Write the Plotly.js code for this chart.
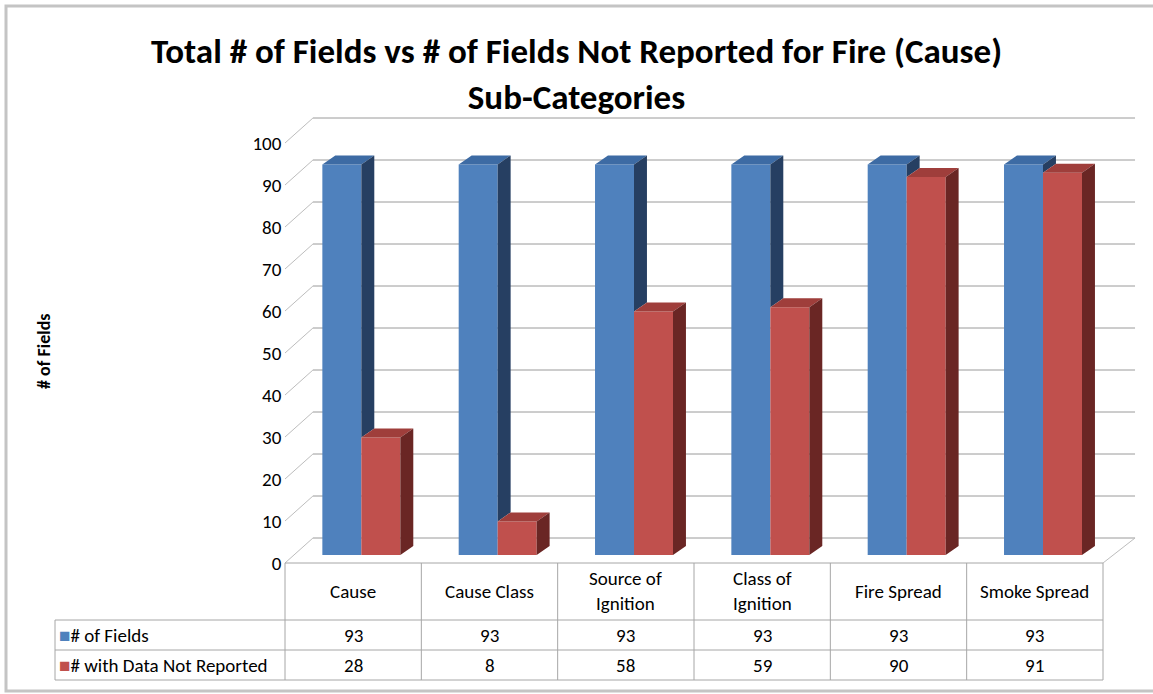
<!DOCTYPE html>
<html>
<head>
<meta charset="utf-8">
<script src="https://cdn.plot.ly/plotly-3.0.1.min.js"></script>
<style>html,body{margin:0;padding:0;background:#fff;}#chart{width:1153px;height:694px;}</style>
</head>
<body>
<div id="chart"></div>
<script>
// ---------------- data ----------------
const categories = ["Cause", "Cause Class", "Source of<br>Ignition", "Class of<br>Ignition", "Fire Spread", "Smoke Spread"];
const totalFields = [93, 93, 93, 93, 93, 93];
const notReported = [28, 8, 58, 59, 90, 91];
const seriesNames = ["# of Fields", "# with Data Not Reported"];
const yTickValues = [0, 10, 20, 30, 40, 50, 60, 70, 80, 90, 100];
const chartTitle = "Total # of Fields vs # of Fields Not Reported for Fire (Cause)<br>Sub-Categories";
const yTitle = "# of Fields";

// ---------------- styling / geometry ----------------
const FONT = "Carlito, Lato, 'Open Sans', sans-serif";
const W = 1153, H = 694;
const BAR_BASE = 1.9;      // bars stand slightly behind the floor front edge
const WALL_DX = 0.205, WALL_DY = 5.95;   // back wall offset
const DEPTH_DX = 0.095, DEPTH_DY = 2.14; // bar depth
const BAR_W = 0.286, BLUE_OFF = -0.226, RED_OFF = 0.06;
const X_BACK_RIGHT = 5.735;
const colors = {
  blueFront: "#4F81BD", blueTop: "#3D6BA4", blueSide: "#263F62",
  redFront: "#C0504D", redTop: "#9F3E3B", redSide: "#6A2624",
  grid: "#9A9A9A", table: "#A6A6A6"
};
const idx = categories.map((_, i) => i);
const py = p => 1 - p / H; // pixel row -> paper
const px = p => p / W;

function topFaces(vals, off) {
  const xs = [], ys = [];
  vals.forEach((v, i) => {
    const x0 = i + off, x1 = x0 + BAR_W, t = v + BAR_BASE;
    xs.push(x0, x1, x1 + DEPTH_DX, x0 + DEPTH_DX, x0, null);
    ys.push(t, t, t + DEPTH_DY, t + DEPTH_DY, t, null);
  });
  return {xs, ys};
}
function sideFaces(vals, off, lowerVals) {
  const xs = [], ys = [];
  vals.forEach((v, i) => {
    const x0 = i + off + BAR_W, t = v + BAR_BASE;
    const lowV = lowerVals ? lowerVals[i] : 0;
    if (lowV >= v) return;
    const b = lowV + BAR_BASE;
    xs.push(x0, x0 + DEPTH_DX, x0 + DEPTH_DX, x0, x0, null);
    ys.push(t, t + DEPTH_DY, b + DEPTH_DY, b, t, null);
  });
  return {xs, ys};
}
function poly(f, color, name) {
  return {type: "scatter", mode: "lines", x: f.xs, y: f.ys, fill: "toself",
    fillcolor: color, line: {width: 0, color: color}, hoverinfo: "skip",
    showlegend: false, name: name};
}

const blueTop = topFaces(totalFields, BLUE_OFF);
const blueSide = sideFaces(totalFields, BLUE_OFF, notReported); // visible part above red bar
const redTop = topFaces(notReported, RED_OFF);
const redSide = sideFaces(notReported, RED_OFF, null);

const traces = [
  {type: "bar", x: idx, y: totalFields, base: BAR_BASE, offset: BLUE_OFF, width: BAR_W,
   marker: {color: colors.blueFront, line: {width: 0}}, name: seriesNames[0], showlegend: false,
   customdata: totalFields, hovertemplate: "%{customdata}<extra>" + seriesNames[0] + "</extra>"},
  {type: "bar", x: idx, y: notReported, base: BAR_BASE, offset: RED_OFF, width: BAR_W,
   marker: {color: colors.redFront, line: {width: 0}}, name: seriesNames[1], showlegend: false,
   customdata: notReported, hovertemplate: "%{customdata}<extra>" + seriesNames[1] + "</extra>"},
  poly(blueTop, colors.blueTop, "blue top"),
  poly(blueSide, colors.blueSide, "blue side"),
  poly(redTop, colors.redTop, "red top"),
  poly(redSide, colors.redSide, "red side")
];

// ---------------- shapes: walls, floor, table ----------------
const shapes = [];
yTickValues.forEach(v => {
  shapes.push({type: "line", xref: "x", yref: "y", layer: "below",
    x0: -0.5 + WALL_DX, y0: v + WALL_DY, x1: X_BACK_RIGHT, y1: v + WALL_DY,
    line: {color: colors.grid, width: 1}});
  shapes.push({type: "line", xref: "x", yref: "y", layer: "below",
    x0: -0.5, y0: v, x1: -0.5 + WALL_DX, y1: v + WALL_DY,
    line: {color: "#BDBDBD", width: 1}});
});
// floor right diagonal
shapes.push({type: "line", xref: "x", yref: "y", layer: "below",
  x0: 5.5, y0: 0, x1: X_BACK_RIGHT, y1: WALL_DY, line: {color: "#BDBDBD", width: 1}});

// table lines
const tTop = py(563), tRow1 = py(620), tRow2 = py(650), tBot = py(680);
const tLeft = px(55);
shapes.push({type: "line", xref: "x", yref: "paper", x0: -0.5, x1: 5.5, y0: tTop, y1: tTop, line: {color: colors.table, width: 1}});
[tRow1, tRow2, tBot].forEach(yv => {
  shapes.push({type: "line", xref: "paper", yref: "paper", x0: tLeft, x1: px(285), y0: yv, y1: yv, line: {color: colors.table, width: 1}});
  shapes.push({type: "line", xref: "x", yref: "paper", x0: -0.5, x1: 5.5, y0: yv, y1: yv, line: {color: colors.table, width: 1}});
});
for (let k = 0; k <= categories.length; k++) {
  shapes.push({type: "line", xref: "x", yref: "paper", x0: k - 0.5, x1: k - 0.5, y0: tTop, y1: tBot, line: {color: colors.table, width: 1}});
}
shapes.push({type: "line", xref: "paper", yref: "paper", x0: tLeft, x1: tLeft, y0: tRow1, y1: tBot, line: {color: colors.table, width: 1}});
// outer chart border
shapes.push({type: "rect", xref: "paper", yref: "paper", x0: px(6), y0: py(691), x1: px(1160), y1: py(6),
  line: {color: "#C4C4C4", width: 3}});

// ---------------- annotations ----------------
const annotations = [];
const TF = {family: FONT, size: 19, color: "#000"};
categories.forEach((c, i) => {
  annotations.push({xref: "x", yref: "paper", x: i, y: py(591), text: c, showarrow: false,
    xanchor: "center", yanchor: "middle", align: "center", font: TF});
  annotations.push({xref: "x", yref: "paper", x: i, y: py(635), text: String(totalFields[i]), showarrow: false,
    xanchor: "center", yanchor: "middle", font: TF});
  annotations.push({xref: "x", yref: "paper", x: i, y: py(665), text: String(notReported[i]), showarrow: false,
    xanchor: "center", yanchor: "middle", font: TF});
});
annotations.push({xref: "paper", yref: "paper", x: px(57), y: py(635), xanchor: "left", yanchor: "middle", showarrow: false,
  text: "<span style='color:" + colors.blueFront + "'>■</span>" + seriesNames[0], font: TF});
annotations.push({xref: "paper", yref: "paper", x: px(57), y: py(665), xanchor: "left", yanchor: "middle", showarrow: false,
  text: "<span style='color:" + colors.redFront + "'>■</span>" + seriesNames[1], font: TF});
annotations.push({xref: "paper", yref: "paper", x: px(44), y: py(352), xanchor: "center", yanchor: "middle", showarrow: false,
  textangle: -90, text: "<b>" + yTitle + "</b>", font: {family: FONT, size: 18, color: "#000"}});

const layout = {
  width: W, height: H,
  margin: {l: 0, r: 0, t: 0, b: 0},
  paper_bgcolor: "#fff", plot_bgcolor: "rgba(0,0,0,0)",
  title: {text: "<b>" + chartTitle + "</b>", x: 0.5, xanchor: "center", xref: "paper",
    y: py(63), yanchor: "top", yref: "paper",
    font: {family: FONT, size: 35, color: "#000"}},
  barmode: "overlay",
  showlegend: false,
  xaxis: {domain: [282.27 / W, 1143.9 / W], range: [-0.52, 5.8], showgrid: false, zeroline: false,
    showline: false, showticklabels: false, ticks: "", fixedrange: true},
  yaxis: {domain: [1 - 567.2 / H, 1 - 109.4 / H], range: [-1, 108], showgrid: false, zeroline: false,
    showline: false, tickmode: "array", tickvals: yTickValues, ticktext: yTickValues.map(String),
    ticks: "", tickfont: {family: FONT, size: 19, color: "#000"}, fixedrange: true},
  shapes: shapes,
  annotations: annotations
};

Plotly.newPlot("chart", traces, layout, {displayModeBar: false, staticPlot: true});
</script>
</body>
</html>
